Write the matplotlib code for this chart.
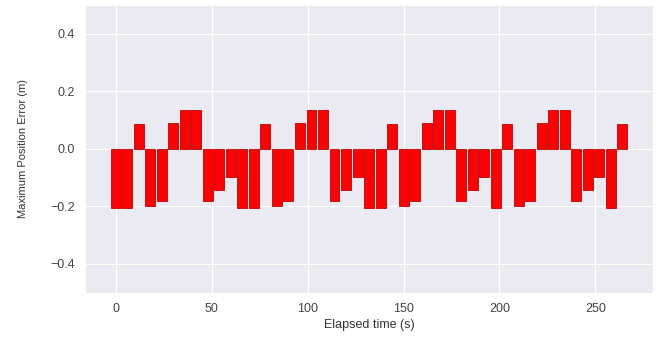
import numpy as np
import matplotlib
matplotlib.use('Agg')
import matplotlib.pyplot as plt
import seaborn as sns

# Elapsed time of each sample (s)
time_s = [0, 6, 12, 18, 24, 30, 36, 42, 48, 54, 60, 66, 72, 78, 84, 90,
          96, 102, 108, 114, 120, 126, 132, 138, 144, 150, 156, 162, 168,
          174, 180, 186, 192, 198, 204, 210, 216, 222, 228, 234, 240, 246,
          252, 258, 264]

# Maximum position error (m)
max_error = [-0.207, -0.207, 0.085, -0.2, -0.18, 0.09, 0.135, 0.135,
             -0.18, -0.143, -0.097, -0.207, -0.207, 0.085, -0.2, -0.18,
             0.09, 0.135, 0.135, -0.18, -0.143, -0.097, -0.207, -0.207,
             0.085, -0.2, -0.18, 0.09, 0.135, 0.135, -0.18, -0.143, -0.097,
             -0.207, 0.085, -0.2, -0.18, 0.09, 0.135, 0.135, -0.18, -0.143,
             -0.097, -0.207, 0.085]

sns.set_style('darkgrid')
plt.rcParams['font.family'] = ['Liberation Sans', 'DejaVu Sans']

fig = plt.figure(figsize=(6.59, 3.39), dpi=100)
ax = fig.add_axes([0.129, 0.137, 0.862, 0.848])

ax.bar(time_s, max_error, width=5.2, color='#ff0000',
       edgecolor='#c00000', linewidth=0.6)

ax.set_ylim(-0.5, 0.5)
ax.set_yticks([-0.4, -0.2, 0.0, 0.2, 0.4])
ax.set_xticks([0, 50, 100, 150, 200, 250])
ax.tick_params(labelsize=9, colors='#444444', pad=4)

ax.set_xlabel('Elapsed time (s)', fontsize=9, color='#333333', labelpad=3)
ax.set_ylabel('Maximum Position Error (m)', fontsize=8, color='#333333',
              labelpad=16)

fig.savefig('out.png', dpi=100)
